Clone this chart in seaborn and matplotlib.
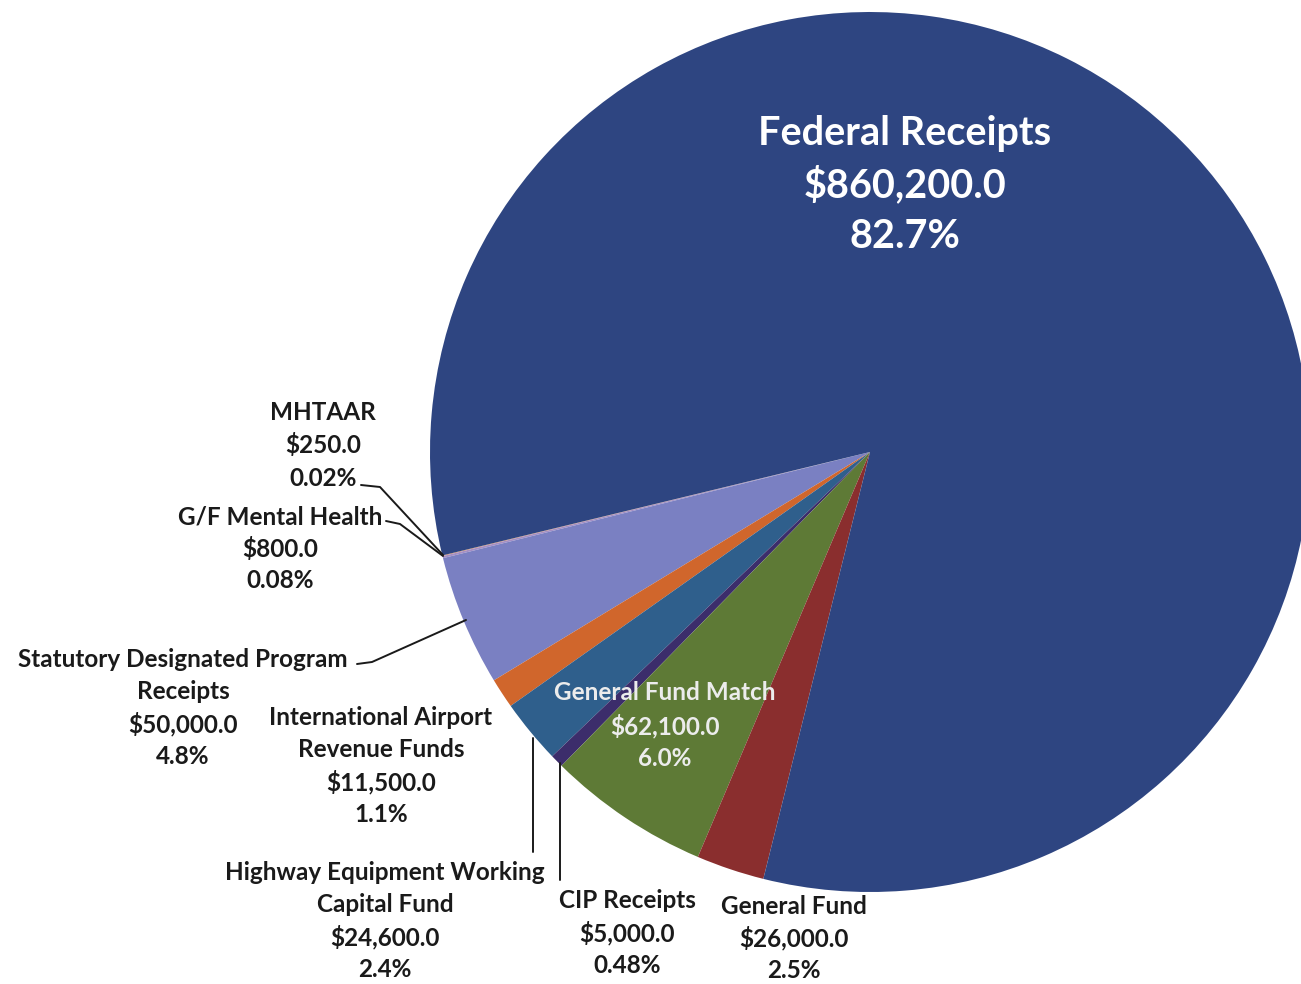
import seaborn as sns
import matplotlib.pyplot as plt

# 자금원별 예산 (pie 순서: 반시계 방향)
names = ["MHTAAR", "G/F Mental Health", "Statutory Designated Program\nReceipts",
         "International Airport\nRevenue Funds", "Highway Equipment Working\nCapital Fund",
         "CIP Receipts", "General Fund Match", "General Fund", "Federal Receipts"]
amounts = [250.0, 800.0, 50000.0, 11500.0, 24600.0, 5000.0, 62100.0, 26000.0, 860200.0]
pct_labels = ["0.02%", "0.08%", "4.8%", "1.1%", "2.4%", "0.48%", "6.0%", "2.5%", "82.7%"]
slice_colors = ["#D98A4E", "#A58FC4", "#7A80C2", "#D0662C", "#2F5F8C",
                "#3C2D6B", "#5E7A36", "#8A2E2E", "#2E4581"]

sns.set_theme(style="white")
plt.rcParams["font.family"] = ["Lato", "DejaVu Sans"]

W, H = 1301, 984
fig = plt.figure(figsize=(W / 100, H / 100), dpi=100)
ax = fig.add_axes([0, 0, 1, 1])


def Y(py):
    return H - py


cx, cy, r = 870, 452, 440
ax.pie(amounts, colors=slice_colors, startangle=193.6, counterclock=True,
       center=(cx, Y(cy)), radius=r, frame=True,
       wedgeprops=dict(linewidth=0))
ax.set_xlim(0, W)
ax.set_ylim(0, H)
ax.set_aspect("equal")
ax.axis("off")

# 라벨 위치 (픽셀)
label_pos = [(323, 445), (280, 549), (183, 708), (381, 766), (385, 921),
             (627, 933), (665, 726), (794, 938), (905, 185)]
line_gap = [33, 32, 32.5, 32.5, 32.5, 32.5, 33, 32, 52]

for i, (nm, amt, pc) in enumerate(zip(names, amounts, pct_labels)):
    lines = nm.split("\n") + ["${:,.1f}".format(amt), pc]
    x, ymid = label_pos[i]
    n = len(lines)
    gap = line_gap[i]
    if i == 8:
        col, fs = "white", 28.5
    elif i == 6:
        col, fs = "#ECECEC", 17.5
    else:
        col, fs = "#1a1a1a", 17.5
    for k, t in enumerate(lines):
        py = ymid + (k - (n - 1) / 2) * gap
        ax.text(x, Y(py), t, ha="center", va="center", fontsize=fs,
                fontweight="bold", color=col)

# 지시선
lk = dict(color="#1a1a1a", lw=1.4)
ax.plot([361, 380, 443], [Y(485), Y(487), Y(555)], **lk)
ax.plot([386, 400, 443], [Y(521), Y(524), Y(556)], **lk)
ax.plot([357, 372, 466], [Y(664), Y(662), Y(620)], **lk)
ax.plot([533, 533], [Y(738), Y(852)], **lk)
ax.plot([560, 560], [Y(763), Y(880)], **lk)

fig.savefig("out.png", dpi=100)
